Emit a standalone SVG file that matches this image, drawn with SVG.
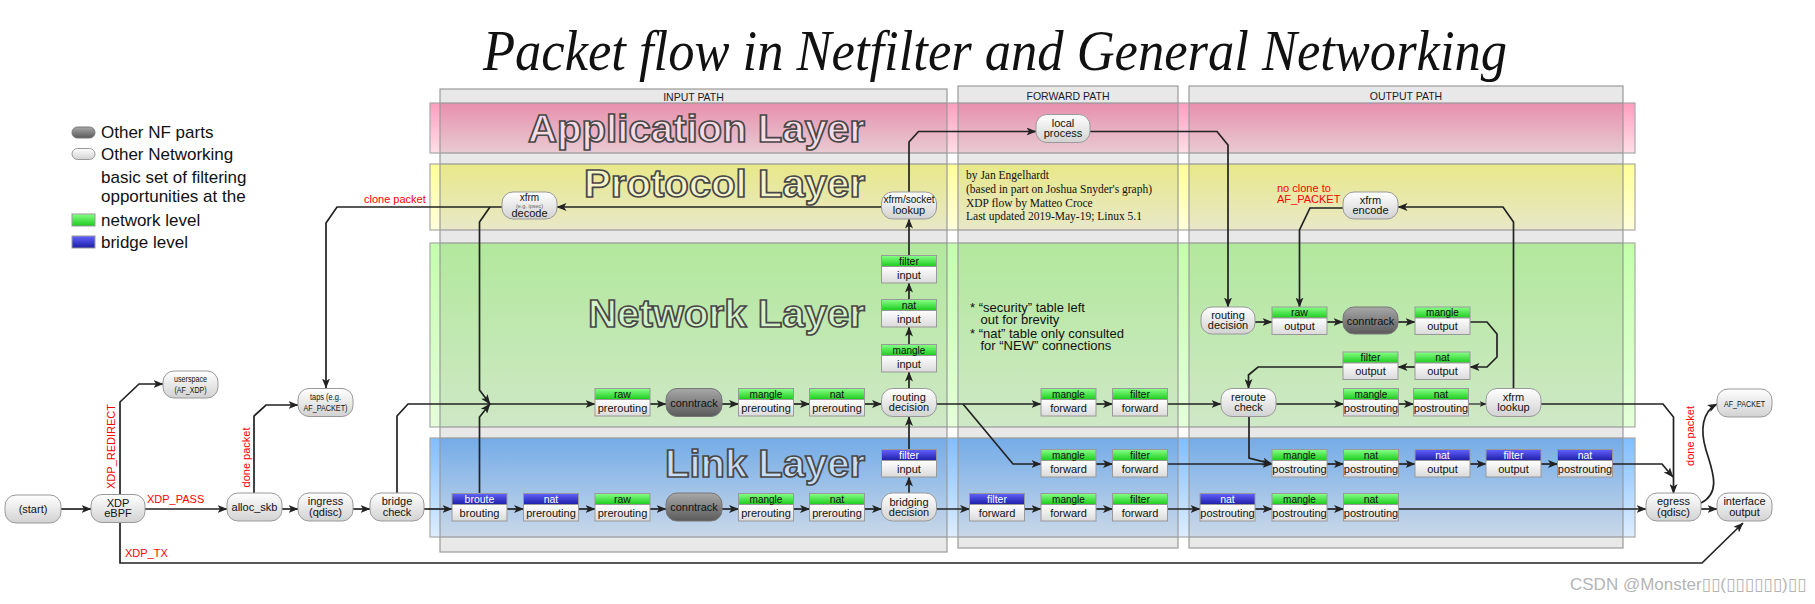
<svg xmlns="http://www.w3.org/2000/svg" width="1815" height="604" viewBox="0 0 1815 604">
<defs>
<linearGradient id="gL" x1="0" y1="0" x2="0" y2="1"><stop offset="0" stop-color="#ffffff"/><stop offset="1" stop-color="#d2d2d2"/></linearGradient>
<linearGradient id="gD" x1="0" y1="0" x2="0" y2="1"><stop offset="0" stop-color="#a8a8a8"/><stop offset="1" stop-color="#5a5a5a"/></linearGradient>
<linearGradient id="gB" x1="0" y1="0" x2="0" y2="1"><stop offset="0" stop-color="#ffffff"/><stop offset="1" stop-color="#dadada"/></linearGradient>
<linearGradient id="gG" x1="0" y1="0" x2="0" y2="1"><stop offset="0" stop-color="#88ff88"/><stop offset="1" stop-color="#1ccc1c"/></linearGradient>
<linearGradient id="gU" x1="0" y1="0" x2="0" y2="1"><stop offset="0" stop-color="#6262ff"/><stop offset="1" stop-color="#1e1ea6"/></linearGradient>
<linearGradient id="lA" x1="0" y1="0" x2="0" y2="1"><stop offset="0" stop-color="#ff9ebf"/><stop offset="1" stop-color="#ffdfe8"/></linearGradient>
<linearGradient id="lP" x1="0" y1="0" x2="0" y2="1"><stop offset="0" stop-color="#ffff98"/><stop offset="1" stop-color="#ffffdc"/></linearGradient>
<linearGradient id="lN" x1="0" y1="0" x2="0" y2="1"><stop offset="0" stop-color="#c4ffac"/><stop offset="1" stop-color="#e4ffda"/></linearGradient>
<linearGradient id="lK" x1="0" y1="0" x2="0" y2="1"><stop offset="0" stop-color="#80bdff"/><stop offset="1" stop-color="#deeeff"/></linearGradient>
<marker id="ah" markerWidth="10" markerHeight="8" refX="9.5" refY="4" orient="auto" markerUnits="userSpaceOnUse"><path d="M0,0 L10,4 L0,8 L2.5,4 z" fill="#222"/></marker>
<marker id="as" markerWidth="7" markerHeight="6" refX="6.5" refY="3" orient="auto" markerUnits="userSpaceOnUse"><path d="M0,0 L7,3 L0,6 L2,3 z" fill="#222"/></marker>
</defs>
<style>
text{font-family:"Liberation Sans",Arial,sans-serif}
.rn{fill:url(#gL);stroke:#999;stroke-width:1}
.dn{fill:url(#gD);stroke:#777;stroke-width:1}
.bd{fill:url(#gB);stroke:#999;stroke-width:1}
.hg{fill:url(#gG);stroke:#999;stroke-width:1}
.hb{fill:url(#gU);stroke:#999;stroke-width:1}
.nt{font-size:11px;fill:#111;text-anchor:middle}
.sm{font-size:9.5px;fill:#111;text-anchor:middle}
.ht{font-size:10.5px;fill:#111;text-anchor:middle}
.hm{font-size:10px;fill:#111;text-anchor:middle}
.hw{font-size:10.5px;fill:#fff;text-anchor:middle}
.bt{font-size:11px;fill:#111;text-anchor:middle}
.ln{fill:none;stroke:#222;stroke-width:1.7;marker-end:url(#ah)}
.lo{fill:none;stroke:#222;stroke-width:1.7}
.red{fill:#ff0000;font-size:11px}
.lt{font-size:39px;font-weight:bold;stroke:#484848;stroke-width:1.7;text-anchor:end}
.pl{font-size:10.5px;fill:#1a1a2a;text-anchor:middle}
.col{fill:#000;fill-opacity:0.09;stroke:#9a9a9a;stroke-width:1.2}
.lay{stroke:#a8a8a8;stroke-width:1.2}
.lg{font-size:17px;fill:#111}
.cr{font-family:"Liberation Serif","Times New Roman",serif;font-size:11.5px;fill:#111}
.nb{font-size:13px;fill:#111}
</style>
<rect width="1815" height="604" fill="#fff"/>

<g id="title"><text x="483" y="70" font-style="italic" font-size="57" textLength="1024" lengthAdjust="spacingAndGlyphs" fill="#111" style="font-family:'Liberation Serif',serif">Packet flow in Netfilter and General Networking</text></g>

<g id="legend">
<rect x="72" y="127" width="23" height="11" rx="5.5" class="dn"/>
<text class="lg" x="101" y="138">Other NF parts</text>
<rect x="72" y="148.5" width="23" height="11" rx="5.5" class="rn"/>
<text class="lg" x="101" y="160">Other Networking</text>
<text class="lg" x="101" y="182.5">basic set of filtering</text>
<text class="lg" x="101" y="201.5">opportunities at the</text>
<rect x="72" y="214" width="23" height="12" class="hg"/>
<text class="lg" x="101" y="226">network level</text>
<rect x="72" y="236" width="23" height="12" class="hb"/>
<text class="lg" x="101" y="248">bridge level</text>
</g>

<g id="layers">
<rect class="lay" x="430" y="103" width="1205" height="50" fill="url(#lA)"/>
<rect class="lay" x="430" y="164" width="1205" height="66" fill="url(#lP)"/>
<rect class="lay" x="430" y="243" width="1205" height="184" fill="url(#lN)"/>
<rect class="lay" x="430" y="438" width="1205" height="99" fill="url(#lK)"/>
</g>

<g id="paths">
<rect class="col" x="440" y="89" width="507" height="463"/>
<rect class="col" x="958" y="86" width="220" height="462"/>
<rect class="col" x="1189" y="86" width="434" height="462"/>
<text class="pl" x="693.5" y="101">INPUT PATH</text>
<text class="pl" x="1068" y="100">FORWARD PATH</text>
<text class="pl" x="1406" y="100">OUTPUT PATH</text>
</g>

<g id="layer-titles">
<text class="lt" x="865" y="142" fill="#f7dbe5" textLength="337" lengthAdjust="spacingAndGlyphs">Application Layer</text>
<text class="lt" x="865" y="197" fill="#f6f4c8" textLength="281" lengthAdjust="spacingAndGlyphs">Protocol Layer</text>
<text class="lt" x="865" y="327" fill="#d6f2c8" textLength="277" lengthAdjust="spacingAndGlyphs">Network Layer</text>
<text class="lt" x="865" y="477" fill="#c8ddf6" textLength="200" lengthAdjust="spacingAndGlyphs">Link Layer</text>
</g>

<g id="credits">
<text class="cr" x="966" y="179">by Jan Engelhardt</text>
<text class="cr" x="966" y="192.5">(based in part on Joshua Snyder's graph)</text>
<text class="cr" x="966" y="206.5">XDP flow by Matteo Croce</text>
<text class="cr" x="966" y="219.5">Last updated 2019-May-19; Linux 5.1</text>
</g>

<g id="notes">
<text class="nb" x="970" y="311.5">* “security” table left</text>
<text class="nb" x="980.5" y="324">out for brevity</text>
<text class="nb" x="970" y="337.5">* “nat” table only consulted</text>
<text class="nb" x="980.5" y="350">for “NEW” connections</text>
</g>

<g id="connectors">
<path class="ln" d="M61,509 H91"/>
<path class="ln" d="M145,509 H227"/>
<path class="ln" d="M120,494 V402 L139,384 H163"/>
<path class="ln" d="M120,522 V563 H1702 L1743,523"/>
<path class="ln" d="M254,493 V416 L266,405 H298"/>
<path class="ln" d="M282,509 H298"/>
<path class="ln" d="M353,509 H370"/>
<path class="ln" d="M424,509 H452"/>
<path class="ln" d="M397,493 V416 L408,404 H595"/>
<path class="ln" d="M502,207 H337 L326,223 V388"/>
<path class="ln" d="M490,207 L479.5,222 V390 L490,404"/>
<path class="ln" d="M479.5,493.5 V417 L490,404"/>
<path class="ln" d="M507,509 H523.5"/>
<path class="ln" d="M578.5,509 H595"/>
<path class="ln" d="M650,509 H666"/>
<path class="ln" d="M722,509 H738.5"/>
<path class="ln" d="M793.5,509 H809.5"/>
<path class="ln" d="M865,509 H881.5"/>
<path class="ln" d="M936.5,509 H969.5"/>
<path class="ln" d="M1024.5,509 H1041"/>
<path class="ln" d="M1096,509 H1112.5"/>
<path class="ln" d="M1167.5,509 H1200"/>
<path class="ln" d="M1255,509 H1272"/>
<path class="ln" d="M1327,509 H1343.5"/>
<path class="ln" d="M1398.5,509 H1646"/>
<path class="ln" d="M1701,509 H1717"/>
<path class="ln" d="M1701,503 C1722,492 1712,470 1706,450 C1700,430 1702,412 1717,404"/>
<path class="ln" d="M909,493.5 V477"/>
<path class="ln" d="M909,449.5 V416.5"/>
<path class="ln" d="M650,404 H666"/>
<path class="ln" d="M722,404 H738.5"/>
<path class="ln" d="M793.5,404 H809.5"/>
<path class="ln" d="M865,404 H881.5"/>
<path class="ln" d="M909,388.5 V372"/>
<path class="ln" d="M909,344.5 V327"/>
<path class="ln" d="M909,299.5 V283"/>
<path class="ln" d="M909,255.5 V219"/>
<path class="ln" d="M882,207 H557"/>
<path class="ln" d="M909,192 V142 L918.5,131.5 H1036"/>
<path class="ln" d="M1090,131.5 H1217 L1228,145 V307"/>
<path class="ln" d="M936.5,404 H1041"/>
<path class="ln" d="M963,404 L1013,464 H1041"/>
<path class="ln" d="M1096,404 H1112.5"/>
<path class="ln" d="M1096,464 H1112.5"/>
<path class="ln" d="M1167.5,404 H1221"/>
<path class="ln" d="M1167.5,464 H1272"/>
<path class="ln" d="M1249,416.5 V458 L1272,464"/>
<path class="ln" d="M1276,404 H1343.5"/>
<path class="ln" d="M1398.5,404 H1413.5"/>
<path class="lo" d="M1468.5,404 H1486" style="stroke-width:1.2;marker-end:url(#as)"/>
<path class="ln" d="M1541,404 H1663 L1673.5,417 V493.5"/>
<path class="ln" d="M1513.5,388.5 V222 L1503,207 H1398"/>
<path class="ln" d="M1343,208 H1310 L1299.5,230 V307"/>
<path class="ln" d="M1255,322 H1272"/>
<path class="ln" d="M1327,322 H1343"/>
<path class="ln" d="M1398,322 H1415"/>
<path class="ln" d="M1470,322 H1487 L1497,334 V357 L1487,367 H1470"/>
<path class="ln" d="M1415,367 H1398"/>
<path class="ln" d="M1343,367 H1258 L1248.5,375 V388.5"/>
<path class="ln" d="M1327,464 H1343.5"/>
<path class="ln" d="M1398.5,464 H1415"/>
<path class="ln" d="M1470,464 H1486"/>
<path class="ln" d="M1541,464 H1557.5"/>
<path class="ln" d="M1612.5,464 H1662 L1673,477"/>
</g>

<g id="edge-labels">
<text class="red" x="147" y="503">XDP_PASS</text>
<text class="red" transform="translate(115,446.5) rotate(-90)" text-anchor="middle">XDP_REDIRECT</text>
<text class="red" x="125" y="557">XDP_TX</text>
<text class="red" transform="translate(249.5,457.5) rotate(-90)" text-anchor="middle">done packet</text>
<text class="red" x="364" y="203">clone packet</text>
<text class="red" x="1277" y="191.5">no clone to</text>
<text class="red" x="1277" y="203">AF_PACKET</text>
<text class="red" transform="translate(1694,436) rotate(-90)" text-anchor="middle">done packet</text>
</g>

<g id="n-start" transform="translate(5,495)"><rect class="rn" width="56" height="28" rx="11"/><text class="nt" x="28" y="18">(start)</text></g>
<g id="n-xdp" transform="translate(91,494.5)"><rect class="rn" width="54" height="28" rx="11"/><text class="nt" x="27" y="12">XDP</text><text class="nt" x="27" y="22.8">eBPF</text></g>
<g id="n-userspace" transform="translate(163,371)"><rect class="rn" width="55" height="27" rx="11"/><text class="sm" x="27.5" y="10.5" textLength="33" lengthAdjust="spacingAndGlyphs">userspace</text><text class="sm" x="27.5" y="22" textLength="32" lengthAdjust="spacingAndGlyphs">(AF_XDP)</text></g>
<g id="n-alloc" transform="translate(227,493)"><rect class="rn" width="55" height="28" rx="11"/><text class="nt" x="27.5" y="18">alloc_skb</text></g>
<g id="n-ingress" transform="translate(298,493)"><rect class="rn" width="55" height="28" rx="11"/><text class="nt" x="27.5" y="12">ingress</text><text class="nt" x="27.5" y="22.5">(qdisc)</text></g>
<g id="n-taps" transform="translate(298,388.5)"><rect class="rn" width="55" height="28" rx="11"/><text class="sm" x="27.5" y="11" textLength="31" lengthAdjust="spacingAndGlyphs">taps (e.g.</text><text class="sm" x="27.5" y="22.5" textLength="44" lengthAdjust="spacingAndGlyphs">AF_PACKET)</text></g>
<g id="n-bridgecheck" transform="translate(370,493)"><rect class="rn" width="54" height="28" rx="11"/><text class="nt" x="27" y="12">bridge</text><text class="nt" x="27" y="22.5">check</text></g>
<g id="n-decode" transform="translate(502,192)"><rect class="rn" width="55" height="27" rx="11"/><text class="nt" x="27.5" y="8.5" style="font-size:10px">xfrm</text><text x="27.5" y="16" text-anchor="middle" style="font-size:5.5px;fill:#666">(e.g. ipsec)</text><text class="nt" x="27.5" y="24.5">decode</text></g>
<g id="n-socklookup" transform="translate(881.5,192)"><rect class="rn" width="55" height="27" rx="11"/><text class="nt" x="27.5" y="11" style="font-size:10px">xfrm/socket</text><text class="nt" x="27.5" y="21.5">lookup</text></g>
<g id="n-routedec-in" transform="translate(881.5,388.5)"><rect class="rn" width="55" height="28" rx="11"/><text class="nt" x="27.5" y="12">routing</text><text class="nt" x="27.5" y="22.8">decision</text></g>
<g id="n-bridgedec" transform="translate(881.5,493)"><rect class="rn" width="55" height="28" rx="11"/><text class="nt" x="27.5" y="12.5">bridging</text><text class="nt" x="27.5" y="23.2">decision</text></g>
<g id="n-local" transform="translate(1036,114.5)"><rect class="rn" width="54" height="28" rx="11"/><text class="nt" x="27" y="12">local</text><text class="nt" x="27" y="22.5">process</text></g>
<g id="n-encode" transform="translate(1343,192)"><rect class="rn" width="55" height="27" rx="11"/><text class="nt" x="27.5" y="11.5">xfrm</text><text class="nt" x="27.5" y="22">encode</text></g>
<g id="n-routedec-out" transform="translate(1201,307)"><rect class="rn" width="54" height="27" rx="11"/><text class="nt" x="27" y="11.5">routing</text><text class="nt" x="27" y="22">decision</text></g>
<g id="n-reroute" transform="translate(1221,388.5)"><rect class="rn" width="55" height="28" rx="11"/><text class="nt" x="27.5" y="12">reroute</text><text class="nt" x="27.5" y="22.8">check</text></g>
<g id="n-xfrmlookup" transform="translate(1486,388.5)"><rect class="rn" width="55" height="28" rx="11"/><text class="nt" x="27.5" y="12">xfrm</text><text class="nt" x="27.5" y="22.8">lookup</text></g>
<g id="n-afpacket" transform="translate(1717,389)"><rect class="rn" width="55" height="28" rx="11"/><text class="sm" x="27.5" y="17.5" textLength="41" lengthAdjust="spacingAndGlyphs">AF_PACKET</text></g>
<g id="n-egress" transform="translate(1646,493)"><rect class="rn" width="55" height="28" rx="11"/><text class="nt" x="27.5" y="12">egress</text><text class="nt" x="27.5" y="22.5">(qdisc)</text></g>
<g id="n-ifout" transform="translate(1717,493)"><rect class="rn" width="55" height="28" rx="11"/><text class="nt" x="27.5" y="12">interface</text><text class="nt" x="27.5" y="22.5">output</text></g>

<g id="n-ct-net" transform="translate(666,388.5)"><rect class="dn" width="56" height="28" rx="11"/><text class="nt" x="28" y="18">conntrack</text></g>
<g id="n-ct-link" transform="translate(666,493)"><rect class="dn" width="56" height="28" rx="11"/><text class="nt" x="28" y="18">conntrack</text></g>
<g id="n-ct-out" transform="translate(1343,307)"><rect class="dn" width="55" height="27" rx="11"/><text class="nt" x="27.5" y="17.5">conntrack</text></g>

<g id="t-filter-input" transform="translate(881.5,255.5)"><rect class="hg" width="55" height="11"/><rect class="bd" y="11" width="55" height="16.5"/><text class="ht" x="27.5" y="9.2">filter</text><text class="bt" x="27.5" y="23.2">input</text></g>
<g id="t-nat-input" transform="translate(881.5,299.5)"><rect class="hg" width="55" height="11"/><rect class="bd" y="11" width="55" height="16.5"/><text class="ht" x="27.5" y="9.2">nat</text><text class="bt" x="27.5" y="23.2">input</text></g>
<g id="t-mangle-input" transform="translate(881.5,344.5)"><rect class="hg" width="55" height="11"/><rect class="bd" y="11" width="55" height="16.5"/><text class="hm" x="27.5" y="9">mangle</text><text class="bt" x="27.5" y="23.2">input</text></g>
<g id="t-bfilter-input" transform="translate(881.5,449.5)"><rect class="hb" width="55" height="11"/><rect class="bd" y="11" width="55" height="16.5"/><text class="hw" x="27.5" y="9.2">filter</text><text class="bt" x="27.5" y="23.2">input</text></g>

<g id="t-raw-pre-net" transform="translate(595,388.5)"><rect class="hg" width="55" height="11"/><rect class="bd" y="11" width="55" height="16.5"/><text class="ht" x="27.5" y="9.2">raw</text><text class="bt" x="27.5" y="23.2">prerouting</text></g>
<g id="t-mangle-pre-net" transform="translate(738.5,388.5)"><rect class="hg" width="55" height="11"/><rect class="bd" y="11" width="55" height="16.5"/><text class="hm" x="27.5" y="9">mangle</text><text class="bt" x="27.5" y="23.2">prerouting</text></g>
<g id="t-nat-pre-net" transform="translate(809.5,388.5)"><rect class="hg" width="55" height="11"/><rect class="bd" y="11" width="55" height="16.5"/><text class="ht" x="27.5" y="9.2">nat</text><text class="bt" x="27.5" y="23.2">prerouting</text></g>

<g id="t-broute" transform="translate(452,493.5)"><rect class="hb" width="55" height="11"/><rect class="bd" y="11" width="55" height="16.5"/><text class="hw" x="27.5" y="9.2">broute</text><text class="bt" x="27.5" y="23.2">brouting</text></g>
<g id="t-bnat-pre" transform="translate(523.5,493.5)"><rect class="hb" width="55" height="11"/><rect class="bd" y="11" width="55" height="16.5"/><text class="hw" x="27.5" y="9.2">nat</text><text class="bt" x="27.5" y="23.2">prerouting</text></g>
<g id="t-raw-pre-link" transform="translate(595,493.5)"><rect class="hg" width="55" height="11"/><rect class="bd" y="11" width="55" height="16.5"/><text class="ht" x="27.5" y="9.2">raw</text><text class="bt" x="27.5" y="23.2">prerouting</text></g>
<g id="t-mangle-pre-link" transform="translate(738.5,493.5)"><rect class="hg" width="55" height="11"/><rect class="bd" y="11" width="55" height="16.5"/><text class="hm" x="27.5" y="9">mangle</text><text class="bt" x="27.5" y="23.2">prerouting</text></g>
<g id="t-nat-pre-link" transform="translate(809.5,493.5)"><rect class="hg" width="55" height="11"/><rect class="bd" y="11" width="55" height="16.5"/><text class="ht" x="27.5" y="9.2">nat</text><text class="bt" x="27.5" y="23.2">prerouting</text></g>

<g id="t-mangle-fwd-net" transform="translate(1041,388.5)"><rect class="hg" width="55" height="11"/><rect class="bd" y="11" width="55" height="16.5"/><text class="hm" x="27.5" y="9">mangle</text><text class="bt" x="27.5" y="23.2">forward</text></g>
<g id="t-filter-fwd-net" transform="translate(1112.5,388.5)"><rect class="hg" width="55" height="11"/><rect class="bd" y="11" width="55" height="16.5"/><text class="ht" x="27.5" y="9.2">filter</text><text class="bt" x="27.5" y="23.2">forward</text></g>
<g id="t-mangle-fwd-up" transform="translate(1041,449.5)"><rect class="hg" width="55" height="11"/><rect class="bd" y="11" width="55" height="16.5"/><text class="hm" x="27.5" y="9">mangle</text><text class="bt" x="27.5" y="23.2">forward</text></g>
<g id="t-filter-fwd-up" transform="translate(1112.5,449.5)"><rect class="hg" width="55" height="11"/><rect class="bd" y="11" width="55" height="16.5"/><text class="ht" x="27.5" y="9.2">filter</text><text class="bt" x="27.5" y="23.2">forward</text></g>
<g id="t-bfilter-fwd" transform="translate(969.5,493.5)"><rect class="hb" width="55" height="11"/><rect class="bd" y="11" width="55" height="16.5"/><text class="hw" x="27.5" y="9.2">filter</text><text class="bt" x="27.5" y="23.2">forward</text></g>
<g id="t-mangle-fwd-link" transform="translate(1041,493.5)"><rect class="hg" width="55" height="11"/><rect class="bd" y="11" width="55" height="16.5"/><text class="hm" x="27.5" y="9">mangle</text><text class="bt" x="27.5" y="23.2">forward</text></g>
<g id="t-filter-fwd-link" transform="translate(1112.5,493.5)"><rect class="hg" width="55" height="11"/><rect class="bd" y="11" width="55" height="16.5"/><text class="ht" x="27.5" y="9.2">filter</text><text class="bt" x="27.5" y="23.2">forward</text></g>

<g id="t-raw-out" transform="translate(1272,307)"><rect class="hg" width="55" height="11"/><rect class="bd" y="11" width="55" height="16.5"/><text class="ht" x="27.5" y="9.2">raw</text><text class="bt" x="27.5" y="23.2">output</text></g>
<g id="t-mangle-out" transform="translate(1415,307)"><rect class="hg" width="55" height="11"/><rect class="bd" y="11" width="55" height="16.5"/><text class="hm" x="27.5" y="9">mangle</text><text class="bt" x="27.5" y="23.2">output</text></g>
<g id="t-nat-out" transform="translate(1415,352)"><rect class="hg" width="55" height="11"/><rect class="bd" y="11" width="55" height="16.5"/><text class="ht" x="27.5" y="9.2">nat</text><text class="bt" x="27.5" y="23.2">output</text></g>
<g id="t-filter-out" transform="translate(1343,352)"><rect class="hg" width="55" height="11"/><rect class="bd" y="11" width="55" height="16.5"/><text class="ht" x="27.5" y="9.2">filter</text><text class="bt" x="27.5" y="23.2">output</text></g>
<g id="t-mangle-post-net" transform="translate(1343.5,388.5)"><rect class="hg" width="55" height="11"/><rect class="bd" y="11" width="55" height="16.5"/><text class="hm" x="27.5" y="9">mangle</text><text class="bt" x="27.5" y="23.2">postrouting</text></g>
<g id="t-nat-post-net" transform="translate(1413.5,388.5)"><rect class="hg" width="55" height="11"/><rect class="bd" y="11" width="55" height="16.5"/><text class="ht" x="27.5" y="9.2">nat</text><text class="bt" x="27.5" y="23.2">postrouting</text></g>
<g id="t-mangle-post-up" transform="translate(1272,449.5)"><rect class="hg" width="55" height="11"/><rect class="bd" y="11" width="55" height="16.5"/><text class="hm" x="27.5" y="9">mangle</text><text class="bt" x="27.5" y="23.2">postrouting</text></g>
<g id="t-nat-post-up" transform="translate(1343.5,449.5)"><rect class="hg" width="55" height="11"/><rect class="bd" y="11" width="55" height="16.5"/><text class="ht" x="27.5" y="9.2">nat</text><text class="bt" x="27.5" y="23.2">postrouting</text></g>
<g id="t-bnat-out" transform="translate(1415,449.5)"><rect class="hb" width="55" height="11"/><rect class="bd" y="11" width="55" height="16.5"/><text class="hw" x="27.5" y="9.2">nat</text><text class="bt" x="27.5" y="23.2">output</text></g>
<g id="t-bfilter-out" transform="translate(1486,449.5)"><rect class="hb" width="55" height="11"/><rect class="bd" y="11" width="55" height="16.5"/><text class="hw" x="27.5" y="9.2">filter</text><text class="bt" x="27.5" y="23.2">output</text></g>
<g id="t-bnat-post-up" transform="translate(1557.5,449.5)"><rect class="hb" width="55" height="11"/><rect class="bd" y="11" width="55" height="16.5"/><text class="hw" x="27.5" y="9.2">nat</text><text class="bt" x="27.5" y="23.2">postrouting</text></g>
<g id="t-bnat-post-link" transform="translate(1200,493.5)"><rect class="hb" width="55" height="11"/><rect class="bd" y="11" width="55" height="16.5"/><text class="hw" x="27.5" y="9.2">nat</text><text class="bt" x="27.5" y="23.2">postrouting</text></g>
<g id="t-mangle-post-link" transform="translate(1272,493.5)"><rect class="hg" width="55" height="11"/><rect class="bd" y="11" width="55" height="16.5"/><text class="hm" x="27.5" y="9">mangle</text><text class="bt" x="27.5" y="23.2">postrouting</text></g>
<g id="t-nat-post-link" transform="translate(1343.5,493.5)"><rect class="hg" width="55" height="11"/><rect class="bd" y="11" width="55" height="16.5"/><text class="ht" x="27.5" y="9.2">nat</text><text class="bt" x="27.5" y="23.2">postrouting</text></g>

<g id="watermark"><text x="1570" y="590" style="font-size:17px;fill:#b4b4b4;font-family:'Liberation Sans','DejaVu Sans',sans-serif">CSDN @Monster▯▯(▯▯▯▯▯▯)▯▯</text></g>
</svg>
